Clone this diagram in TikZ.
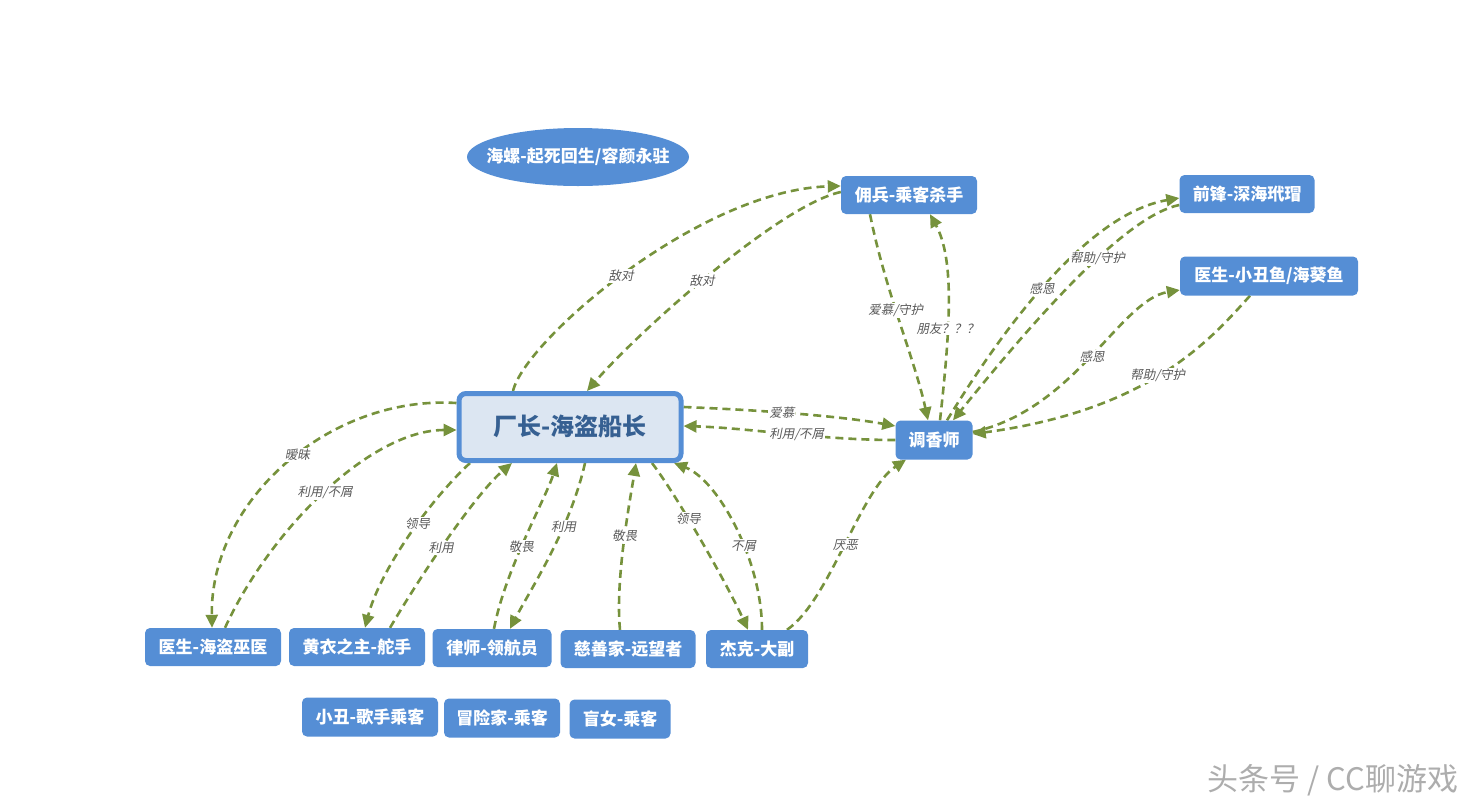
\documentclass[tikz,border=0pt]{standalone}
\usepackage{fontspec}
\setmainfont{Noto Sans CJK SC}
\newfontfamily\lblfont{Noto Sans CJK SC}[FakeSlant=0.2]
\usetikzlibrary{arrows.meta,shapes.geometric}
\pgfdeclarelayer{background}
\pgfdeclarelayer{foreground}
\pgfsetlayers{background,main,foreground}
\definecolor{boxblue}{RGB}{85,142,213}
\definecolor{capfill}{RGB}{220,230,242}
\definecolor{captext}{RGB}{54,96,146}
\definecolor{relgreen}{RGB}{118,146,60}
\definecolor{lblgray}{RGB}{89,89,89}

\begin{document}
\begin{tikzpicture}[x=1pt,y=-1pt,
  role/.style={fill=boxblue,text=white,rounded corners=5pt,minimum height=38pt,inner sep=0pt,font=\fontsize{17}{20}\selectfont\bfseries},
  rel/.style={draw=relgreen,line width=2.6pt,dash pattern=on 8pt off 5pt,-{Triangle[length=13pt,width=12pt]}},
  lbl/.style={fill=white,text=lblgray,inner sep=1pt,font=\lblfont\fontsize{12.5}{14}\selectfont}]
\useasboundingbox (0,0) rectangle (1477,807);
\begin{pgfonlayer}{foreground}
\node[ellipse,fill=boxblue,text=white,minimum width=222pt,minimum height=58pt,inner xsep=-14pt,inner ysep=0pt,font=\fontsize{17}{20}\selectfont\bfseries] (conch) at (578,157) {海螺-起死回生/容颜永驻};
\node[draw=boxblue,line width=5pt,fill=capfill,text=captext,rounded corners=7pt,minimum width=222pt,minimum height=67pt,font=\fontsize{24}{28}\selectfont\bfseries] (cap) at (570,427) {厂长-海盗船长};
\node[role,minimum width=136pt] (merc) at (909,195) {佣兵-乘客杀手};
\node[role,minimum width=135pt] (fwd) at (1247,194) {前锋-深海玳瑁};
\node[role,minimum width=178pt,minimum height=39pt] (doc2) at (1269,276) {医生-小丑鱼/海葵鱼};
\node[role,minimum width=77pt,minimum height=39pt] (perf) at (934,440) {调香师};
\node[role,minimum width=136pt] (doc1) at (213,647) {医生-海盗巫医};
\node[role,minimum width=136pt] (yellow) at (357,647) {黄衣之主-舵手};
\node[role,minimum width=119pt] (law) at (492,648) {律师-领航员};
\node[role,minimum width=135pt] (phil) at (628,649) {慈善家-远望者};
\node[role,minimum width=102pt] (jack) at (757,649) {杰克-大副};
\node[role,minimum width=136pt,minimum height=39pt] (clown) at (370,717) {小丑-歌手乘客};
\node[role,minimum width=116pt,minimum height=39pt] (adv) at (502,718) {冒险家-乘客};
\node[role,minimum width=101pt,minimum height=39pt] (blind) at (620,719) {盲女-乘客};
\node[text=black!32,font=\fontsize{31}{36}\selectfont] (mark) at (1333,780) {头条号 / CC聊游戏};
\end{pgfonlayer}
\begin{pgfonlayer}{background}
\draw[rel] ([xshift=-57pt]cap.north) .. controls (525,340) and (700,190) .. ([yshift=9pt]merc.west) node[lbl,pos=0.48] {敌对};
\draw[rel] ([yshift=3pt]merc.west) .. controls (780,205) and (640,330) .. ([xshift=17pt]cap.north) node[lbl,pos=0.53] {敌对};
\draw[rel] ([yshift=20pt]cap.east) .. controls (760,410) and (840,416) .. ([yshift=14pt]perf.west) node[lbl,pos=0.43] {爱慕};
\draw[rel] (perf.west) .. controls (820,440) and (750,428) .. ([yshift=1pt]cap.east) node[lbl,pos=0.45] {利用/不屑};
\draw[rel] ([xshift=-39pt]merc.south) .. controls (885,290) and (915,360) .. ([xshift=-6pt]perf.north) node[lbl,pos=0.44] {爱慕/守护};
\draw[rel] ([xshift=6pt]perf.north) .. controls (950,330) and (955,260) .. ([xshift=21pt]merc.south) node[lbl,pos=0.37] {朋友？？？};
\draw[rel] ([xshift=13pt]perf.north) .. controls (990,350) and (1080,215) .. ([yshift=-4pt]fwd.west) node[lbl,pos=0.5] {感恩};
\draw[rel] ([yshift=-11pt]fwd.west) .. controls (1130,215) and (1050,300) .. ([xshift=19pt]perf.north) node[lbl,pos=0.44] {帮助/守护};
\draw[rel] ([yshift=8pt]perf.east) .. controls (1075,410) and (1120,300) .. ([yshift=-14pt]doc2.west) node[lbl,pos=0.5] {感恩};
\draw[rel] ([xshift=-19pt]doc2.south) .. controls (1210,340) and (1150,410) .. ([yshift=6pt]perf.east) node[lbl,pos=0.52] {帮助/守护};
\draw[rel] ([yshift=24pt]cap.west) .. controls (330,395) and (210,500) .. ([xshift=-1pt]doc1.north) node[lbl,pos=0.46] {暧昧};
\draw[rel] ([xshift=12pt]doc1.north) .. controls (270,530) and (370,430) .. ([yshift=-3pt]cap.west) node[lbl,pos=0.5] {利用/不屑};
\draw[rel] ([xshift=-100pt]cap.south) .. controls (430,500) and (380,570) .. ([xshift=8pt]yellow.north) node[lbl,pos=0.42] {领导};
\draw[rel] ([xshift=33pt]yellow.north) .. controls (430,560) and (480,490) .. ([xshift=-58pt]cap.south) node[lbl,pos=0.4] {利用};
\draw[rel] ([xshift=2pt]law.north) .. controls (505,570) and (545,500) .. ([xshift=-13pt]cap.south) node[lbl,pos=0.45] {敬畏};
\draw[rel] ([xshift=15pt]cap.south) .. controls (570,530) and (530,590) .. ([xshift=18pt]law.north) node[lbl,pos=0.33] {利用};
\draw[rel] ([xshift=-8pt]phil.north) .. controls (615,580) and (630,500) .. ([xshift=66pt]cap.south) node[lbl,pos=0.53] {敬畏};
\draw[rel] ([xshift=82pt]cap.south) .. controls (680,500) and (730,590) .. ([xshift=-9pt]jack.north) node[lbl,pos=0.36] {领导};
\draw[rel] ([xshift=5pt]jack.north) .. controls (762,560) and (718,480) .. ([xshift=104pt]cap.south) node[lbl,pos=0.4] {不屑};
\draw[rel] ([xshift=30pt]jack.north) .. controls (830,600) and (860,490) .. ([xshift=-28pt]perf.south) node[lbl,pos=0.5] {厌恶};
\end{pgfonlayer}
\end{tikzpicture}
\end{document}
